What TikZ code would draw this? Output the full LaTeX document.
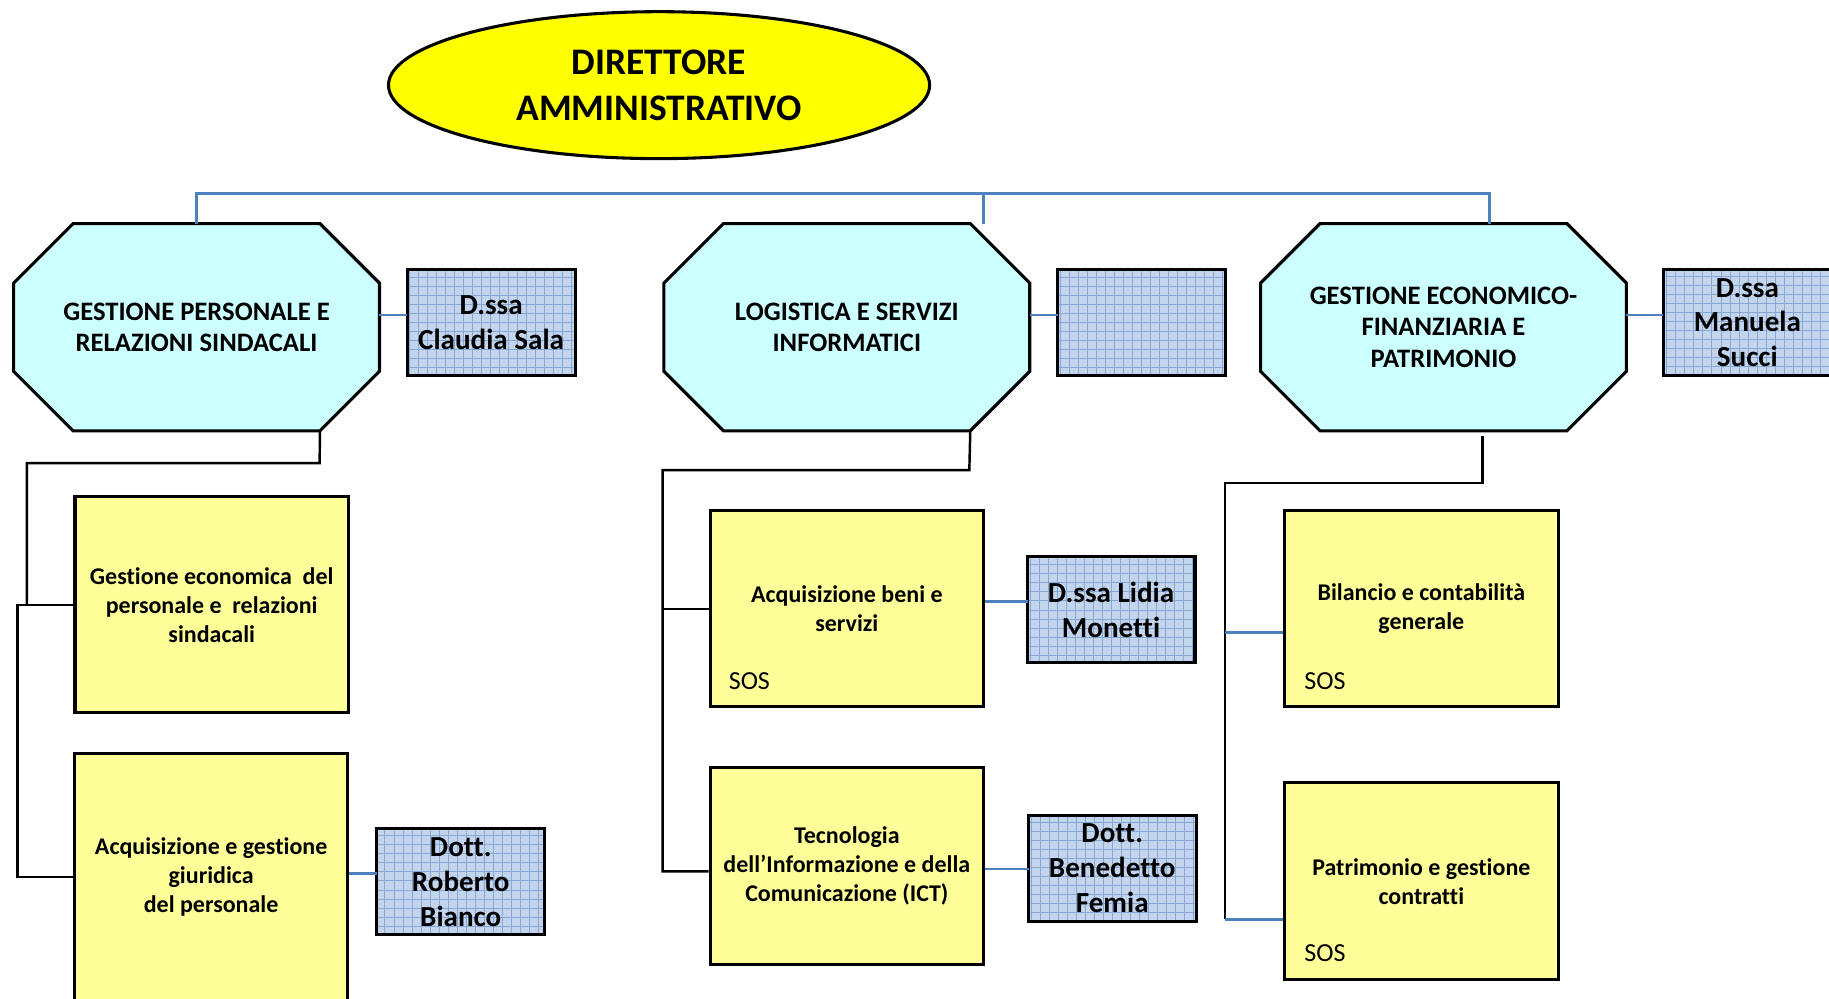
\documentclass[tikz,border=0pt]{standalone}
\usepackage{fontspec}
\setmainfont{Carlito}[Ligatures={NoCommon}]
\usetikzlibrary{shapes.geometric,calc,backgrounds}
\definecolor{ellyellow}{HTML}{FFFF00}
\definecolor{octfill}{HTML}{CCFFFF}
\definecolor{boxfill}{HTML}{FFFF99}
\definecolor{nbfill}{HTML}{C3D5EC}
\definecolor{nbgrid}{HTML}{86A6D6}
\definecolor{linkblue}{HTML}{4F81BD}
\newcommand\drawoct[1]{%
  \filldraw[octshape] ($(#1.north west)+(51,0)$) -- ($(#1.north east)+(-51,0)$) --
    ($(#1.north east)+(0,51)$) -- ($(#1.south east)+(0,-51)$) --
    ($(#1.south east)+(-51,0)$) -- ($(#1.south west)+(51,0)$) --
    ($(#1.south west)+(0,-51)$) -- ($(#1.north west)+(0,51)$) -- cycle;}
\begin{document}
\begin{tikzpicture}[x=0.02cm,y=-0.02cm,
  dirnode/.style={ellipse, draw, line width=1.5pt, fill=ellyellow, minimum width=9.28cm, minimum height=2.52cm, inner sep=0pt, align=center, font=\fontsize{18.3}{22.2}\selectfont\bfseries},
  octnode/.style={minimum width=6.26cm, minimum height=3.54cm, inner sep=0pt, align=center, font=\fontsize{13}{15.4}\selectfont\bfseries},
  octshape/.style={draw, fill=octfill, line width=1.5pt, line join=miter},
  namebox/.style={rectangle, draw, line width=1.5pt, fill=nbfill, minimum width=2.88cm, minimum height=1.82cm, inner sep=0pt, align=center, font=\fontsize{14.2}{17}\selectfont\bfseries,
    path picture={\draw[nbgrid, line width=0.35pt, step=0.155cm] (path picture bounding box.south west) grid (path picture bounding box.north east);}},
  unitbox/.style={rectangle, draw, line width=1.5pt, fill=boxfill, minimum width=4.69cm, inner sep=0pt, align=center, font=\fontsize{11.7}{14.2}\selectfont\bfseries},
  sos/.style={inner sep=0pt, font=\fontsize{12.7}{14.2}\selectfont},
  blueline/.style={draw=linkblue, line width=1.4pt},
  blackline/.style={draw=black, line width=1.2pt, line join=miter}]
\useasboundingbox (0,0) rectangle (1568,856);
\begin{scope}[on background layer]
  \fill[white] (0,0) rectangle (1568,856);
\end{scope}

% top
\node[dirnode] (dir) at (565,73) {DIRETTORE\\AMMINISTRATIVO};

% octagons
\node[octnode] (g1) at (168.5,280.5) {GESTIONE PERSONALE E\\RELAZIONI SINDACALI};
\node[octnode] (g2) at (726,280.5) {LOGISTICA E SERVIZI\\INFORMATICI};
\node[octnode] (g3) at (1237.5,280.5) {GESTIONE ECONOMICO-\\FINANZIARIA E\\PATRIMONIO};
\begin{scope}[on background layer]
  \drawoct{g1}\drawoct{g2}\drawoct{g3}
\end{scope}

% name boxes top row
\node[namebox] (n1) at (421,276.5) {D.ssa\\Claudia Sala};
\node[namebox] (n2) at (978.5,276.5) {};
\node[namebox] (n3) at (1498,276.5) {D.ssa\\Manuela\\Succi};

% unit boxes
\node[unitbox, minimum height=3.70cm] (A) at (181.5,518.5) {Gestione economica\ \ del\\personale e\ \ relazioni\\sindacali};
\node[unitbox, minimum height=4.24cm] (B) at (181,752) {Acquisizione e gestione\\giuridica\\del personale};
\node[namebox] (nB) at (395,756) {Dott.\\Roberto\\Bianco};

\node[unitbox, minimum height=3.36cm] (C) at (726,522) {Acquisizione beni e\\servizi};
\node[sos, anchor=west] (sosC) at ($(C.south west)+(17,-23)$) {SOS};
\node[namebox] (nC) at (952.5,522.5) {D.ssa Lidia\\Monetti};
\node[unitbox, minimum height=3.38cm] (D) at (726,742.5) {Tecnologia\\dell’Informazione e della\\Comunicazione (ICT)};
\node[namebox] (nD) at (953.5,744.5) {Dott.\\Benedetto\\Femia};

\node[unitbox, minimum height=3.36cm] (E) at (1218.5,522) {Bilancio e contabilità\\generale};
\node[sos, anchor=west] (sosE) at ($(E.south west)+(18,-23)$) {SOS};
\node[unitbox, minimum height=3.38cm] (F) at (1218.5,755.5) {Patrimonio e gestione\\contratti};
\node[sos, anchor=west] (sosF) at ($(F.south west)+(18,-24)$) {SOS};

% top bus
\coordinate (bus1) at (168.5,166);
\coordinate (bus3) at (1277,166);
\coordinate (bus2) at (843,166);
\coordinate (bus2e) at (843,192);
\coordinate (g3top) at (1277,192);
\draw[blueline] (g1.north) -- (bus1) -- (bus3) -- (g3top);
\draw[blueline] (bus2) -- (bus2e);

% octagon to name box
\coordinate (j1) at (349,270);
\coordinate (j2) at (907,270);
\coordinate (j3) at (1426,270);
\draw[blueline] (j1 -| g1.east) -- (j1);
\draw[blueline] (j2 -| g2.east) -- (j2);
\draw[blueline] (j3 -| g3.east) -- (j3);

% left branch
\coordinate (g1b) at ($(g1.south east)+(-51,0)$);
\coordinate (l1) at (274,397);
\coordinate (l2) at (23,397);
\coordinate (l3) at (23,518.5);
\coordinate (l4) at (15,518.5);
\draw[blackline] (g1b) -- (l1) -- (l2) -- (l3);
\draw[blackline] (A.west) -- (l4) |- (B.west);
\coordinate (jb) at (323,749);
\draw[blueline] (jb -| B.east) -- (jb);

% middle branch
\coordinate (g2b) at ($(g2.south east)+(-51,0)$);
\coordinate (m1) at (831,403);
\coordinate (m2) at (568,403);
\coordinate (m3) at (568,747);
\draw[blackline] (g2b) -- (m1) -- (m2) -- (m3) -- (m3 -| D.west);
\draw[blackline] (m2 |- C.west) -- (C.west);
\coordinate (jc) at (881,516);
\coordinate (jd) at (882,745);
\draw[blueline] (jc -| C.east) -- (jc);
\draw[blueline] (jd -| D.east) -- (jd);

% right branch
\coordinate (r0) at (1271,374);
\coordinate (r1) at (1271,414);
\coordinate (r2) at (1050,414);
\coordinate (r3) at (1050,788);
\coordinate (re) at (1050,542);
\draw[blackline] (r0) -- (r1) -- (r2) -- (r3);
\draw[blueline] (re) -- (re -| E.west);
\draw[blueline] (r3) -- (r3 -| F.west);
\end{tikzpicture}
\end{document}
